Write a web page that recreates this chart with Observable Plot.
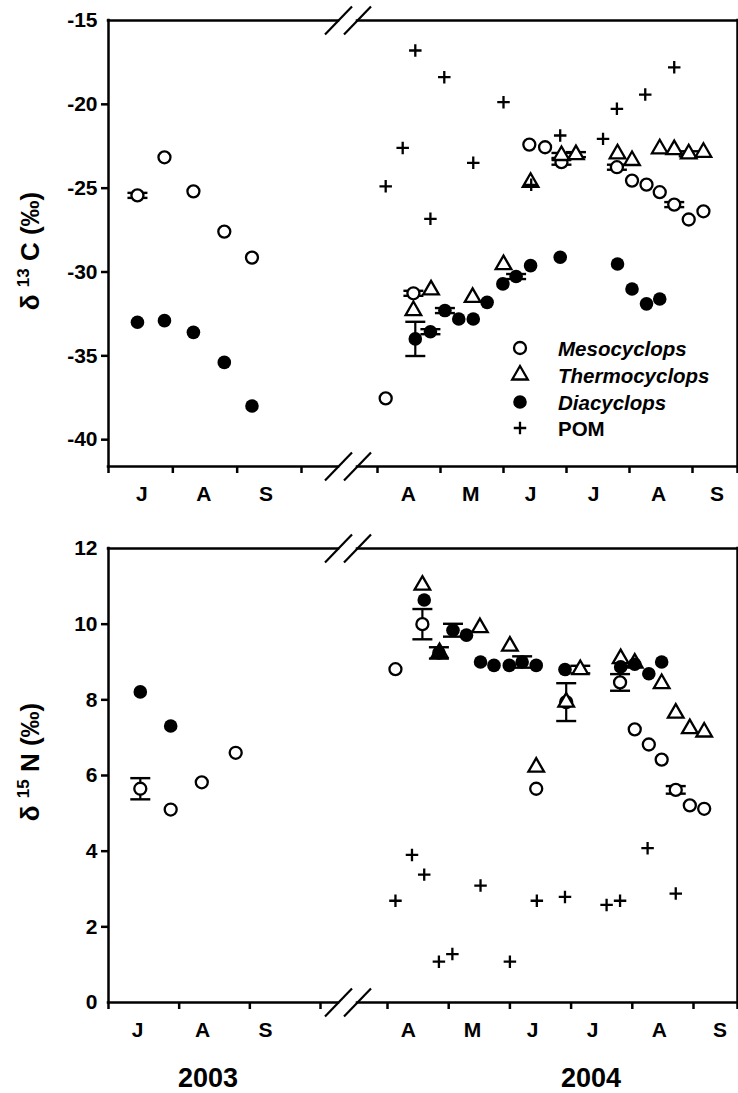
<!DOCTYPE html>
<html>
<head>
<meta charset="utf-8">
<script src="https://cdn.jsdelivr.net/npm/d3@7"></script>
<script src="https://cdn.jsdelivr.net/npm/@observablehq/plot@0.6"></script>
<style>
  body { margin: 0; background: #fff; }
  #chart { width: 738px; height: 1093px; }
  #chart svg { display: block; }
</style>
</head>
<body>
<div id="chart"></div>
<script>
// x values are decimal months: 7 = 1 Jul 2003 ... 10 = 1 Oct 2003; 16 = 1 Apr 2004 ... 21 = 1 Sep 2004
const monthTicks = [7, 8, 9, 10, 16, 17, 18, 19, 20, 21, 21.7];
const monthLabels2003 = ["J", "A", "S"];
const monthLabels2004 = ["A", "M", "J", "J", "A", "S"];
const labelPosTop = [7.52, 8.48, 9.45, 16.49, 17.48, 18.43, 19.43, 20.46, 21.38];
const labelPosBottom = [7.41, 8.33, 9.22, 16.34, 17.39, 18.37, 19.35, 20.44, 21.42];
const yearLabels = ["2003", "2004"];
const seriesNames = ["Mesocyclops", "Thermocyclops", "Diacyclops", "POM"];

// ---- δ13C (top panel) ----
const c13MesoX = [7.45, 7.87, 8.32, 8.80, 9.23, 16.13, 16.57, 18.41, 18.66, 18.92, 19.80, 20.04, 20.27, 20.48, 20.71, 20.94, 21.17];
const c13MesoV = [-25.43, -23.16, -25.19, -27.59, -29.14, -37.54, -31.27, -22.40, -22.56, -23.45, -23.75, -24.55, -24.79, -25.24, -25.98, -26.87, -26.38];
const c13MesoE = [0.15, 0, 0, 0, 0, 0, 0.15, 0, 0, 0.15, 0.15, 0, 0, 0, 0.15, 0, 0];

const c13ThermoX = [16.57, 16.85, 17.51, 18.0, 18.43, 18.92, 19.15, 19.81, 20.04, 20.48, 20.71, 20.94, 21.17];
const c13ThermoV = [-32.30, -31.07, -31.51, -29.56, -24.65, -23.05, -23.0, -22.95, -23.35, -22.65, -22.70, -22.95, -22.86];
const c13ThermoE = [0, 0, 0, 0, 0, 0.15, 0.15, 0, 0, 0, 0, 0.15, 0];

const c13DiaX = [7.45, 7.87, 8.32, 8.80, 9.23, 16.60, 16.84, 17.07, 17.29, 17.52, 17.74, 17.99, 18.20, 18.43, 18.90, 19.81, 20.04, 20.27, 20.48];
const c13DiaV = [-33.0, -32.9, -33.6, -35.39, -37.99, -33.99, -33.56, -32.30, -32.80, -32.80, -31.81, -30.71, -30.27, -29.62, -29.12, -29.52, -31.01, -31.90, -31.61];
const c13DiaE = [0, 0, 0, 0, 0, 1.02, 0.15, 0.15, 0, 0, 0, 0, 0.15, 0, 0, 0, 0, 0, 0];

const pomX = [16.13, 16.40, 16.60, 16.84, 17.06, 17.52, 18.0, 18.44, 18.90, 19.58, 19.80, 20.25, 20.71];
const c13PomV = [-24.89, -22.60, -16.79, -26.83, -18.38, -23.49, -19.87, -24.8, -21.86, -22.06, -20.27, -19.42, -17.79];

// ---- δ15N (bottom panel) ----
const n15MesoX = [7.45, 7.88, 8.32, 8.80, 16.13, 16.57, 18.43, 18.92, 19.80, 20.04, 20.27, 20.48, 20.71, 20.94, 21.17];
const n15MesoV = [5.65, 5.10, 5.82, 6.60, 8.81, 10.0, 5.65, 7.94, 8.46, 7.22, 6.82, 6.42, 5.62, 5.21, 5.12];
const n15MesoE = [0.28, 0, 0, 0, 0, 0.4, 0, 0.5, 0.22, 0, 0, 0, 0.1, 0, 0];

const n15ThermoX = [16.57, 16.85, 17.51, 18.0, 18.43, 18.92, 19.15, 19.81, 20.04, 20.48, 20.71, 20.94, 21.17];
const n15ThermoV = [11.03, 9.25, 9.91, 9.42, 6.22, 7.94, 8.80, 9.09, 8.97, 8.43, 7.65, 7.24, 7.15];
const n15ThermoE = [0, 0, 0, 0, 0, 0, 0.1, 0, 0, 0, 0, 0, 0];

const n15DiaX = [7.45, 7.88, 16.60, 16.84, 17.07, 17.29, 17.52, 17.74, 17.99, 18.20, 18.43, 18.90, 19.81, 20.04, 20.27, 20.48];
const n15DiaV = [8.21, 7.31, 10.64, 9.24, 9.84, 9.71, 9.0, 8.91, 8.91, 9.0, 8.91, 8.80, 8.87, 8.94, 8.69, 9.0];
const n15DiaE = [0, 0, 0, 0.15, 0.17, 0, 0, 0, 0, 0.15, 0, 0, 0, 0, 0, 0];

const n15PomV = [2.69, 3.90, 3.38, 1.08, 1.28, 3.09, 1.08, 2.69, 2.79, 2.58, 2.69, 4.08, 2.88];

// ---- helpers ----
const FONT = "'Liberation Sans', Arial, Helvetica, sans-serif";
const rows = (xs, vs, es) => xs.map((x, i) => ({x, v: vs[i], e: es ? es[i] : 0}));
const capSymbol = {draw(ctx) { ctx.moveTo(-10, 0); ctx.lineTo(10, 0); }};
const slashSymbol = {draw(ctx) { ctx.moveTo(-13.5, 14); ctx.lineTo(13.5, -14); }};
const breaks = [12, 14];
const segs = [{x1: 7, x2: 12}, {x1: 14, x2: 21.7}];

const symMeso = {symbol: "circle", r: 6, fill: "white", stroke: "black", strokeWidth: 2.3};
const symThermo = {symbol: "triangle", r: 5.8, fill: "white", stroke: "black", strokeWidth: 2.3};
const symDia = {symbol: "circle", r: 6.8, fill: "black", stroke: "none"};
const symPom = {symbol: "plus", r: 4.1, fill: "none", stroke: "black", strokeWidth: 2.3};

function seriesMarks(data, sym) {
  const err = data.filter(d => d.e > 0);
  return [
    Plot.ruleX(err, {x: "x", y1: d => d.v - d.e, y2: d => d.v + d.e, stroke: "black", strokeWidth: 2.2}),
    Plot.dot(err, {x: "x", y: d => d.v - d.e, symbol: capSymbol, fill: "none", stroke: "black", strokeWidth: 2.4}),
    Plot.dot(err, {x: "x", y: d => d.v + d.e, symbol: capSymbol, fill: "none", stroke: "black", strokeWidth: 2.4}),
    Plot.dot(data, {x: "x", y: "v", ...sym})
  ];
}

function framework(yMin, yMax, yTicks, yLabelTicks, labelPos) {
  const allLabels = [...monthLabels2003, ...monthLabels2004];
  const labelMap = new Map(labelPos.map((p, i) => [p, allLabels[i]]));
  return [
    Plot.ruleY(segs, {x1: "x1", x2: "x2", y: () => yMax, stroke: "black", strokeWidth: 2.5, strokeLinecap: "square"}),
    Plot.ruleY(segs, {x1: "x1", x2: "x2", y: () => yMin, stroke: "black", strokeWidth: 2.5, strokeLinecap: "square"}),
    Plot.ruleX([7, 21.7], {x: d => d, y1: () => yMin, y2: () => yMax, stroke: "black", strokeWidth: 2.5, strokeLinecap: "square"}),
    Plot.dot(breaks, {x: d => d, y: () => yMax, symbol: slashSymbol, fill: "none", stroke: "black", strokeWidth: 2.2}),
    Plot.dot(breaks, {x: d => d, y: () => yMin, symbol: slashSymbol, fill: "none", stroke: "black", strokeWidth: 2.2}),
    Plot.axisX({ticks: monthTicks, tickSize: 7, fill: "none", stroke: "black", strokeWidth: 2.5}),
    Plot.axisX({ticks: labelPos, tickSize: 0, tickPadding: 20, tickFormat: d => labelMap.get(d), fontSize: 21, fontWeight: "bold", label: null}),
    Plot.axisY({ticks: yTicks, tickSize: 7, fill: "none", stroke: "black", strokeWidth: 2.5}),
    Plot.axisY({ticks: yLabelTicks, tickSize: 0, tickPadding: 11, tickFormat: d => String(d), fontSize: 21, fontWeight: "bold", label: null})
  ];
}

function yTitle(svg, cx, cy, iso, elem) {
  const t = d3.select(svg).append("text")
    .attr("transform", `translate(${cx},${cy}) rotate(-90)`)
    .attr("text-anchor", "middle")
    .attr("fill", "black")
    .style("font-family", FONT).style("font-weight", "bold").style("font-size", "26px");
  t.append("tspan").text("δ ");
  t.append("tspan").attr("dy", -10).style("font-size", "17px").text(iso);
  t.append("tspan").attr("dy", 10).text(` ${elem} (‰)`);
}

// ---- top panel ----
const topYMin = -41.6, topYMax = -15;
const topSvg = Plot.plot({
  width: 738, height: 520,
  marginLeft: 108, marginRight: 1, marginTop: 20, marginBottom: 54,
  style: {fontFamily: FONT, fontWeight: "bold", color: "black", background: "white", overflow: "visible"},
  x: {type: "linear", domain: [7, 10, 12, 14, 16, 21, 21.7], range: [108, 301, 338, 357, 377, 692, 737]},
  y: {domain: [topYMin, topYMax]},
  marks: [
    ...framework(topYMin, topYMax, [-20, -25, -30, -35, -40], [-15, -20, -25, -30, -35, -40], labelPosTop),
    ...seriesMarks(rows(c13MesoX, c13MesoV, c13MesoE), symMeso),
    ...seriesMarks(rows(c13ThermoX, c13ThermoV, c13ThermoE), symThermo),
    ...seriesMarks(rows(c13DiaX, c13DiaV, c13DiaE), symDia),
    ...seriesMarks(rows(pomX, c13PomV), symPom)
  ]
});
yTitle(topSvg, 39, 251, "13", "C");

// legend (inside the top panel)
{
  const g = d3.select(topSvg).append("g");
  const syms = [
    {type: d3.symbolCircle, r: 6, fill: "white", stroke: "black", sw: 2.3},
    {type: d3.symbolTriangle, r: 5.8, fill: "white", stroke: "black", sw: 2.3},
    {type: d3.symbolCircle, r: 6.8, fill: "black", stroke: "none", sw: 0},
    {type: d3.symbolPlus, r: 4.1, fill: "none", stroke: "black", sw: 2.3}
  ];
  const rowsY = [348, 375, 402, 428];
  seriesNames.forEach((name, i) => {
    const s = syms[i];
    g.append("path")
      .attr("transform", `translate(520,${rowsY[i]})`)
      .attr("d", d3.symbol(s.type, Math.PI * s.r * s.r)())
      .attr("fill", s.fill).attr("stroke", s.stroke).attr("stroke-width", s.sw);
    g.append("text")
      .attr("x", 558).attr("y", rowsY[i] + 7.5)
      .attr("text-anchor", "start")
      .attr("fill", "black")
      .style("font-family", FONT).style("font-weight", "bold").style("font-size", "20.5px")
      .style("font-style", name === "POM" ? "normal" : "italic")
      .text(name);
  });
}

// ---- bottom panel ----
const botYMin = 0, botYMax = 12;
const bottomSvg = Plot.plot({
  width: 738, height: 573,
  marginLeft: 108, marginRight: 1, marginTop: 28, marginBottom: 91,
  style: {fontFamily: FONT, fontWeight: "bold", color: "black", background: "white", overflow: "visible"},
  x: {type: "linear", domain: [7, 10, 12, 14, 16, 21, 21.7], range: [108, 320, 338, 357, 387, 693, 737]},
  y: {domain: [botYMin, botYMax]},
  marks: [
    ...framework(botYMin, botYMax, [2, 4, 6, 8, 10], [0, 2, 4, 6, 8, 10, 12], labelPosBottom),
    ...seriesMarks(rows(n15MesoX, n15MesoV, n15MesoE), symMeso),
    ...seriesMarks(rows(n15ThermoX, n15ThermoV, n15ThermoE), symThermo),
    ...seriesMarks(rows(n15DiaX, n15DiaV, n15DiaE), symDia),
    ...seriesMarks(rows(pomX, n15PomV), symPom)
  ]
});
yTitle(bottomSvg, 39, 242, "15", "N");
{
  const g = d3.select(bottomSvg).append("g");
  const xs = [208, 591];
  yearLabels.forEach((lab, i) => {
    g.append("text").attr("x", xs[i]).attr("y", 567).attr("text-anchor", "middle")
      .attr("fill", "black")
      .style("font-family", FONT).style("font-weight", "bold").style("font-size", "27px")
      .text(lab);
  });
}

document.getElementById("chart").append(topSvg, bottomSvg);
</script>
</body>
</html>
